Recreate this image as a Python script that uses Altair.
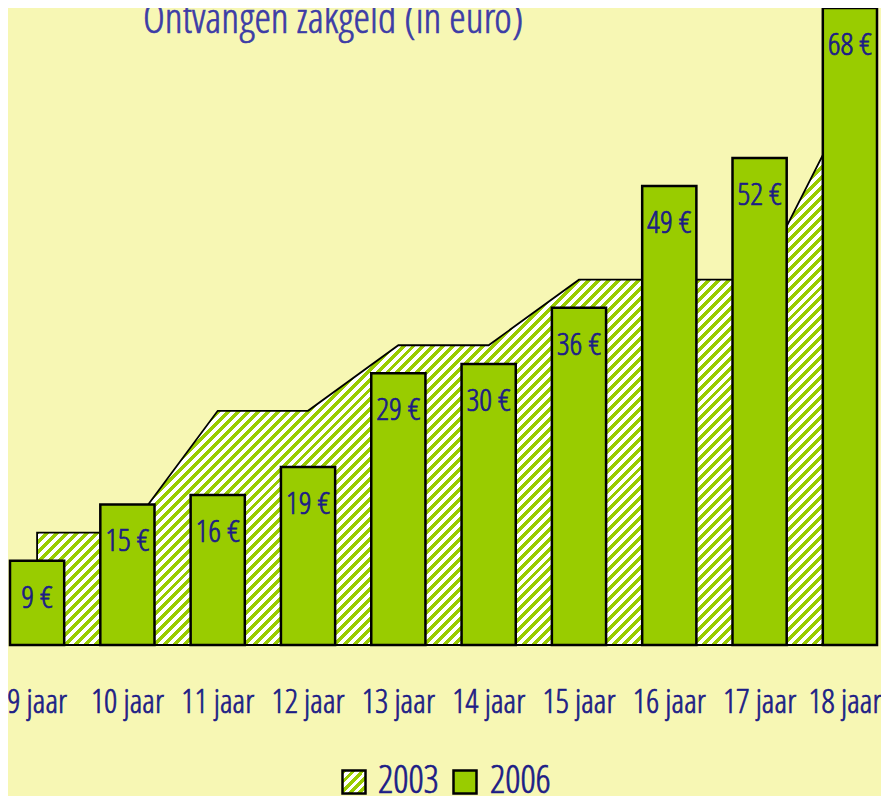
import altair as alt
import pandas as pd

# ---- data -------------------------------------------------------------
ages = ["9 jaar", "10 jaar", "11 jaar", "12 jaar", "13 jaar",
        "14 jaar", "15 jaar", "16 jaar", "17 jaar", "18 jaar"]
zakgeld_2003 = [12, 12, 25, 25, 32, 32, 39, 39, 39, 58]
zakgeld_2006 = [9, 15, 16, 19, 29, 30, 36, 49, 52, 68]
series = ["2003", "2006"]
title_text = "Ontvangen zakgeld (in euro)"

df = pd.DataFrame({"leeftijd": ages, "v2003": zakgeld_2003, "v2006": zakgeld_2006})
df["label"] = [f"{v} €" for v in zakgeld_2006]

# ---- style ------------------------------------------------------------
W, H, YMAX = 867, 637, 68
PAD_INNER = 0.4
GREEN = "#99cc00"
WHITE = "#ffffff"
TEXT = "#1c1c86"
TITLE = "#3c3ca6"
BG = "#f7f7b4"
FONT = "'Open Sans Condensed Light', 'Roboto Condensed', sans-serif"
TXT_STROKE = 0.7


def stripes(n, w_box, h_box):
    """Diagonal '/' hatch as a hard-stop linear gradient over a box."""
    a = (w_box + h_box) / (w_box ** 2 + h_box ** 2)
    stops = []
    for i in range(n):
        o0, o1, o2 = i / n, (i + 0.5) / n, (i + 1) / n
        stops += [alt.GradientStop(color=GREEN, offset=o0),
                  alt.GradientStop(color=GREEN, offset=o1),
                  alt.GradientStop(color=WHITE, offset=o1),
                  alt.GradientStop(color=WHITE, offset=o2)]
    return alt.Gradient(gradient="linear", stops=stops,
                        x1=0, y1=0, x2=a * w_box, y2=a * h_box)


step = W / (len(ages) - PAD_INNER)
area_w = (len(ages) - 1) * step
area_h = max(zakgeld_2003) * H / YMAX
hatch = stripes(int(round((area_w + area_h) / 10)), area_w, area_h)

x = alt.X("leeftijd:N", sort=ages,
          scale=alt.Scale(paddingInner=PAD_INNER, paddingOuter=0), axis=None)
yscale = alt.Scale(domain=[0, YMAX], nice=False, zero=True)

base = alt.Chart(df)

area = base.mark_area(fill=hatch, stroke="black", strokeWidth=1.8,
                      interpolate="linear").encode(
    x=x, y=alt.Y("v2003:Q", scale=yscale, axis=None))

bars = base.mark_bar(color=GREEN, stroke="black", strokeWidth=2.5).encode(
    x=x, y=alt.Y("v2006:Q", scale=yscale, axis=None))

labels = base.mark_text(font=FONT, fontSize=32, color=TEXT, stroke=TEXT,
                        strokeWidth=TXT_STROKE, baseline="alphabetic", dy=47).encode(
    x=x, y=alt.Y("v2006:Q", scale=yscale, axis=None), text="label:N")

# category labels under the bars (axis-like)
cat_style = dict(font=FONT, fontSize=33, color=TEXT, stroke=TEXT,
                 strokeWidth=TXT_STROKE, baseline="alphabetic")
cats = base.transform_filter(alt.datum.leeftijd != ages[-1]).mark_text(**cat_style).encode(
    x=x, y=alt.value(H + 68), text="leeftijd:N")
cat_last = base.transform_filter(alt.datum.leeftijd == ages[-1]).mark_text(
    dx=-5, **cat_style).encode(x=x, y=alt.value(H + 68), text="leeftijd:N")

title = alt.Chart(pd.DataFrame({"t": [title_text]})).mark_text(
    font=FONT, fontSize=42, color=TITLE, stroke=TITLE, strokeWidth=TXT_STROKE,
    align="left", baseline="alphabetic").encode(
    x=alt.value(133), y=alt.value(25), text="t:N")

# ---- legend -----------------------------------------------------------
leg = alt.Chart(pd.DataFrame({"serie": series}))
sw2003 = leg.transform_filter(alt.datum.serie == series[0]).mark_square(
    size=23 * 23, fill=stripes(5, 23, 23), stroke="black", strokeWidth=2.5, opacity=1).encode(
    x=alt.value(344), y=alt.value(774))
sw2006 = leg.transform_filter(alt.datum.serie == series[1]).mark_square(
    size=23 * 23, fill=GREEN, stroke="black", strokeWidth=2.5, opacity=1).encode(
    x=alt.value(455), y=alt.value(774))
leg_style = dict(font=FONT, fontSize=38, color=TEXT, stroke=TEXT,
                 strokeWidth=TXT_STROKE, align="left", baseline="alphabetic")
t2003 = leg.transform_filter(alt.datum.serie == series[0]).mark_text(**leg_style).encode(
    x=alt.value(368), y=alt.value(785), text="serie:N")
t2006 = leg.transform_filter(alt.datum.serie == series[1]).mark_text(**leg_style).encode(
    x=alt.value(480), y=alt.value(785), text="serie:N")

chart = alt.layer(area, bars, labels, cats, cat_last, title,
                  sw2003, sw2006, t2003, t2006).properties(
    width=W, height=H,
    autosize=alt.AutoSizeParams(type="none"),
    padding={"left": 2, "right": 4, "top": 0, "bottom": 151},
    background=BG,
).configure_view(stroke=None)

chart.save("out.html", embed_options={"renderer": "svg", "actions": False})
